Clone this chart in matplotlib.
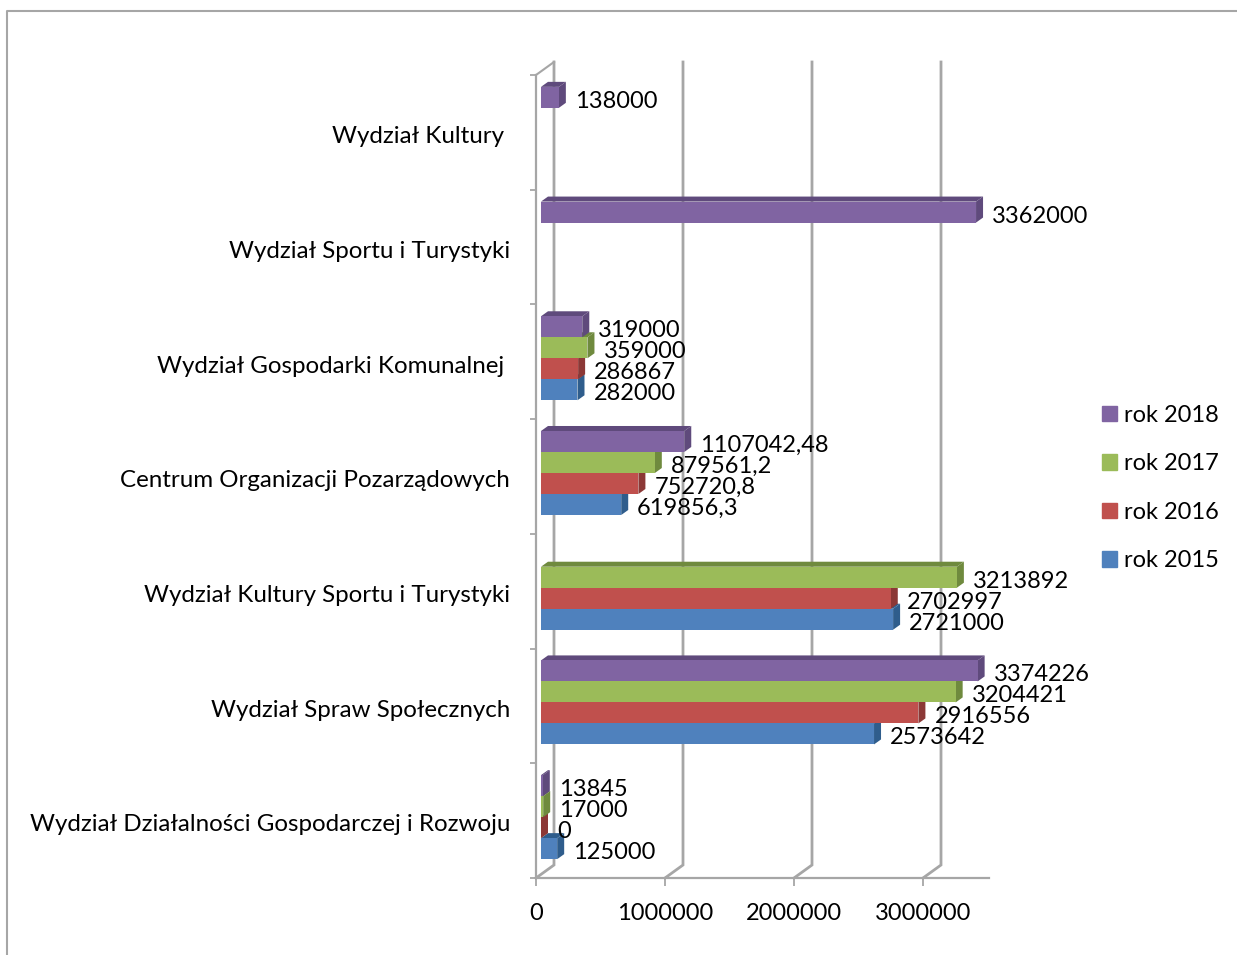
import matplotlib.pyplot as plt
from matplotlib.lines import Line2D
from matplotlib.patches import Patch

plt.rcParams['font.family'] = ['Lato', 'DejaVu Sans']
plt.rcParams['font.size'] = 17

categories = [
    'Wydział Działalności Gospodarczej i Rozwoju',
    'Wydział Spraw Społecznych',
    'Wydział Kultury Sportu i Turystyki',
    'Centrum Organizacji Pozarządowych',
    'Wydział Gospodarki Komunalnej ',
    'Wydział Sportu i Turystyki',
    'Wydział Kultury ',
]
rok_2015 = [125000, 2573642, 2721000, 619856.3, 282000, None, None]
rok_2016 = [0, 2916556, 2702997, 752720.8, 286867, None, None]
rok_2017 = [17000, 3204421, 3213892, 879561.2, 359000, None, None]
rok_2018 = [13845, 3374226, None, 1107042.48, 319000, 3362000, 138000]
x_ticks = [0, 1000000, 2000000, 3000000]

series = [
    ('rok 2015', rok_2015, '#4F81BD', '#2F5D8C'),
    ('rok 2016', rok_2016, '#C0504D', '#8C3836'),
    ('rok 2017', rok_2017, '#9BBB59', '#6F8A3E'),
    ('rok 2018', rok_2018, '#8064A2', '#5F4A7C'),
]
gray = '#A6A6A6'

W, H = 1237, 955
fig = plt.figure(figsize=(W / 100, H / 100), dpi=100)
ax = fig.add_axes([536 / W, 1 - 878 / H, (989 - 536) / W, (878 - 75) / H])
ax.patch.set_alpha(0)

px_x = 1000000 / 129.4   # value per pixel
px_y = 1 / 114.7         # category per pixel
ax.set_xlim(0, 453 * px_x)
ax.set_ylim(-0.5, 6.5)

# outer frame of the chart
fig.add_artist(Line2D([7 / W, 7 / W, 1], [0, 1 - 11 / H, 1 - 11 / H], color=gray, lw=1.5))

# back wall gridlines with the slanted foot
wall_x = 18 * px_x
wall_y = 13 * px_y
tick_step = 129 * px_x / 1000000
for t in x_ticks:
    ax.plot([t * tick_step, t * tick_step + wall_x, t * tick_step + wall_x],
            [-0.5, -0.5 + wall_y, 6.5 + wall_y],
            color=gray, lw=2, clip_on=False, zorder=1, solid_joinstyle='miter')
ax.plot([0, wall_x], [6.5, 6.5 + wall_y], color=gray, lw=1.5, clip_on=False, zorder=1)

# bars with side and top faces
base = 5 * px_x
dx = 7 * px_x
dy = 5 * px_y
bar_h = 21 * px_y
z = 3
for s, (name, values, color, dark) in enumerate(series):
    for i, v in enumerate(values):
        if v is None:
            continue
        y0 = i + 3.5 * px_y + (s - 2) * bar_h
        y1 = y0 + bar_h
        x1 = base + v
        ax.fill([base, base + dx, x1 + dx, x1], [y1, y1 + dy, y1 + dy, y1],
                color=dark, lw=0, zorder=z, clip_on=False)
        ax.fill([x1, x1 + dx, x1 + dx, x1], [y0, y0 + dy, y1 + dy, y1],
                color=dark, lw=0, zorder=z, clip_on=False)
        ax.barh((y0 + y1) / 2, v, height=bar_h, left=base, color=color, zorder=z, clip_on=False)
        ax.annotate(str(v).replace('.', ','), (x1 + dx, (y0 + y1) / 2),
                    xytext=(9 * 0.72, -4 * 0.72), textcoords='offset points',
                    ha='left', va='center', zorder=20, annotation_clip=False)
    z += 1

# axes
for side in ['top', 'right']:
    ax.spines[side].set_visible(False)
for side in ['left', 'bottom']:
    ax.spines[side].set_color(gray)
    ax.spines[side].set_linewidth(1.6)
    ax.spines[side].set_zorder(2)

ax.set_xticks([t * tick_step for t in x_ticks])
ax.set_xticklabels([str(t) for t in x_ticks])
ax.tick_params(axis='x', length=5.8, width=1.3, color=gray, pad=12.5)
ax.set_yticks([i - 0.5 for i in range(8)])
ax.set_yticklabels([])
ax.tick_params(axis='y', which='major', length=4.3, width=1.3, color=gray)
ax.set_yticks([i - 0.02 for i in range(7)], minor=True)
ax.set_yticklabels(categories, minor=True, fontsize=17.4)
ax.tick_params(axis='y', which='minor', length=0, pad=18.7)

handles = [Patch(color=c, label=n) for n, _, c, _ in reversed(series)]
fig.legend(handles=handles, loc='center left', bbox_to_anchor=(1102 / W, 1 - 488 / H),
           frameon=False, borderpad=0, borderaxespad=0, handlelength=0.64, handleheight=0.64,
           handletextpad=0.29, labelspacing=1.165, fontsize=17)

fig.savefig('out.png', dpi=100)
